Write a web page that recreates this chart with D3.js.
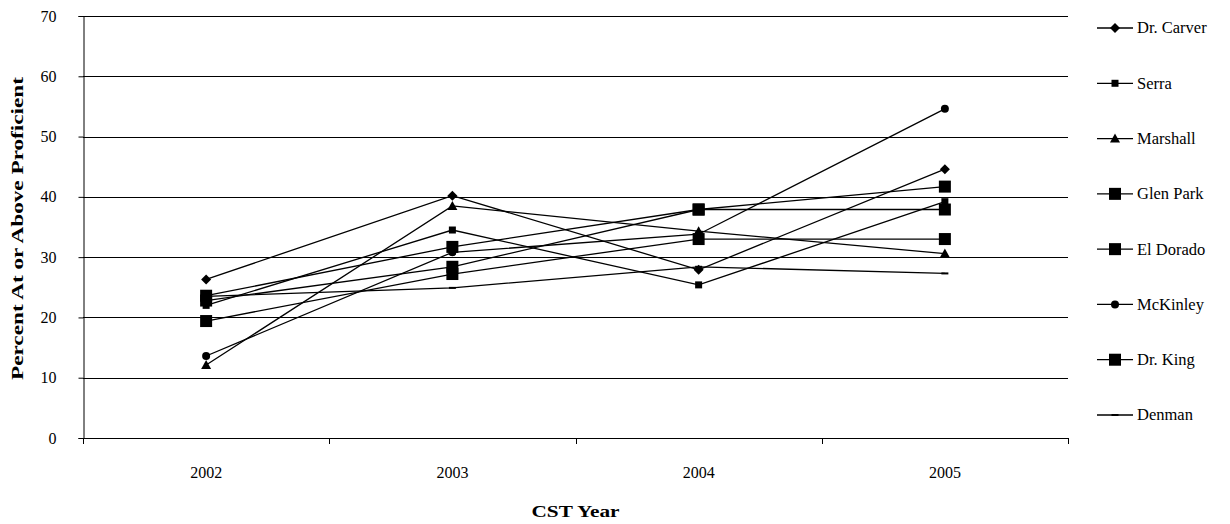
<!DOCTYPE html>
<html>
<head>
<meta charset="utf-8">
<script src="https://cdn.jsdelivr.net/npm/d3@7"></script>
<style>
  html, body { margin: 0; padding: 0; background: #fff; }
  svg { display: block; }
  text { font-family: "Liberation Serif", "Times New Roman", serif; fill: #000; }
</style>
</head>
<body>
<svg id="chart" width="1230" height="524"></svg>
<script>
// CST results, percent of students at or above proficient
const years = ["2002", "2003", "2004", "2005"];
const schools = ["Dr. Carver", "Serra", "Marshall", "Glen Park", "El Dorado", "McKinley", "Dr. King", "Denman"];
const drCarver = [26.3, 40.2, 27.9, 44.6];
const serra    = [22.0, 34.5, 25.4, 39.2];
const marshall = [12.1, 38.5, 34.3, 30.6];
const glenPark = [23.6, 31.7, 37.9, 41.7];
const elDorado = [22.8, 28.4, 37.9, 37.9];
const mcKinley = [13.6, 30.8, 33.8, 54.6];
const drKing   = [19.4, 27.2, 33.0, 33.0];
const denman   = [23.5, 24.9, 28.4, 27.3];
const yTicks = [0, 10, 20, 30, 40, 50, 60, 70];

const seriesValues = [drCarver, serra, marshall, glenPark, elDorado, mcKinley, drKing, denman];
const markerKinds = ["diamond", "smallSquare", "triangle", "bigSquare", "bigSquare", "circle", "bigSquare", "dash"];

const svg = d3.select("#chart");
const plot = { left: 83, top: 16, right: 1068, bottom: 438 };

const x = d3.scaleBand().domain(years).range([plot.left, plot.right]).padding(0);
const y = d3.scaleLinear().domain([0, 70]).range([plot.bottom, plot.top]);

// horizontal gridlines
svg.append("g")
  .selectAll("line")
  .data(yTicks)
  .join("line")
  .attr("x1", plot.left).attr("x2", plot.right)
  .attr("y1", d => Math.round(y(d)) + 0.5).attr("y2", d => Math.round(y(d)) + 0.5)
  .attr("stroke", "#000").attr("stroke-width", 1);

// y axis
const yAxis = svg.append("g")
  .attr("transform", `translate(${plot.left + 0.5},0)`)
  .call(d3.axisLeft(y).tickValues(yTicks).tickSize(5).tickPadding(22).tickFormat(d3.format("d")));
yAxis.attr("font-family", null);
yAxis.select(".domain").attr("stroke", "#000");
yAxis.selectAll(".tick line").attr("stroke", "#000");
yAxis.selectAll("text").attr("font-size", 16).attr("font-family", "Liberation Serif");

// x axis: ticks sit between the year categories
const xAxis = svg.append("g")
  .attr("transform", `translate(0,${Math.round(plot.bottom) + 0.5})`)
  .call(d3.axisBottom(x).tickSize(0).tickPadding(28));
xAxis.attr("font-family", null);
xAxis.select(".domain").attr("stroke", "#000").attr("d", `M${plot.left},0H${plot.right}`);
xAxis.selectAll("text").attr("font-size", 16).attr("font-family", "Liberation Serif");
const boundaries = years.map(d => x(d)).concat([x(years[years.length - 1]) + x.bandwidth()]);
svg.append("g")
  .selectAll("line")
  .data(boundaries)
  .join("line")
  .attr("x1", d => Math.round(d) + 0.5).attr("x2", d => Math.round(d) + 0.5)
  .attr("y1", plot.bottom).attr("y2", plot.bottom + 6)
  .attr("stroke", "#000");

// axis titles
svg.append("text")
  .attr("x", (plot.left + plot.right) / 2).attr("y", 517)
  .attr("text-anchor", "middle").attr("font-weight", "bold").attr("font-size", 17)
  .attr("textLength", 88).attr("lengthAdjust", "spacingAndGlyphs")
  .text("CST Year");
svg.append("text")
  .attr("transform", `translate(23,${(77 + 380) / 2}) rotate(-90)`)
  .attr("text-anchor", "middle").attr("font-weight", "bold").attr("font-size", 17)
  .attr("textLength", 303).attr("lengthAdjust", "spacingAndGlyphs")
  .text("Percent At or Above Proficient");

// marker shapes
function drawMarker(g, kind) {
  if (kind === "diamond") {
    g.append("path").attr("d", "M0,-5L5,0L0,5L-5,0Z").attr("fill", "#000");
  } else if (kind === "smallSquare") {
    g.append("rect").attr("x", -3.5).attr("y", -3.5).attr("width", 7).attr("height", 7).attr("fill", "#000");
  } else if (kind === "triangle") {
    g.append("path").attr("d", "M0,-5L5,4L-5,4Z").attr("fill", "#000");
  } else if (kind === "bigSquare") {
    g.append("rect").attr("x", -6).attr("y", -6).attr("width", 12).attr("height", 12).attr("fill", "#000");
  } else if (kind === "circle") {
    g.append("circle").attr("r", 4).attr("fill", "#000");
  } else if (kind === "dash") {
    g.append("rect").attr("x", -3.5).attr("y", -1).attr("width", 7).attr("height", 2).attr("fill", "#000");
  }
}

const line = d3.line()
  .x((d, i) => x(years[i]) + x.bandwidth() / 2)
  .y(d => y(d));

const seriesG = svg.append("g");
seriesValues.forEach(vals => {
  seriesG.append("path")
    .attr("d", line(vals))
    .attr("fill", "none").attr("stroke", "#000").attr("stroke-width", 1.3);
});
seriesValues.forEach((vals, si) => {
  vals.forEach((v, i) => {
    const g = seriesG.append("g")
      .attr("transform", `translate(${x(years[i]) + x.bandwidth() / 2},${y(v)})`);
    drawMarker(g, markerKinds[si]);
  });
});

// legend
const legend = svg.append("g");
const legendY = d3.scalePoint().domain(schools).range([28, 415]);
schools.forEach((name, si) => {
  const ly = legendY(name);
  const g = legend.append("g").attr("transform", `translate(0,${ly})`);
  g.append("line").attr("x1", 1097).attr("x2", 1133).attr("y1", 0).attr("y2", 0)
    .attr("stroke", "#000").attr("stroke-width", 1.3);
  drawMarker(g.append("g").attr("transform", "translate(1115,0)"), markerKinds[si]);
  g.append("text").attr("x", 1137).attr("y", 0).attr("dy", "0.33em")
    .attr("font-size", 16.5).text(name);
});
</script>
</body>
</html>
